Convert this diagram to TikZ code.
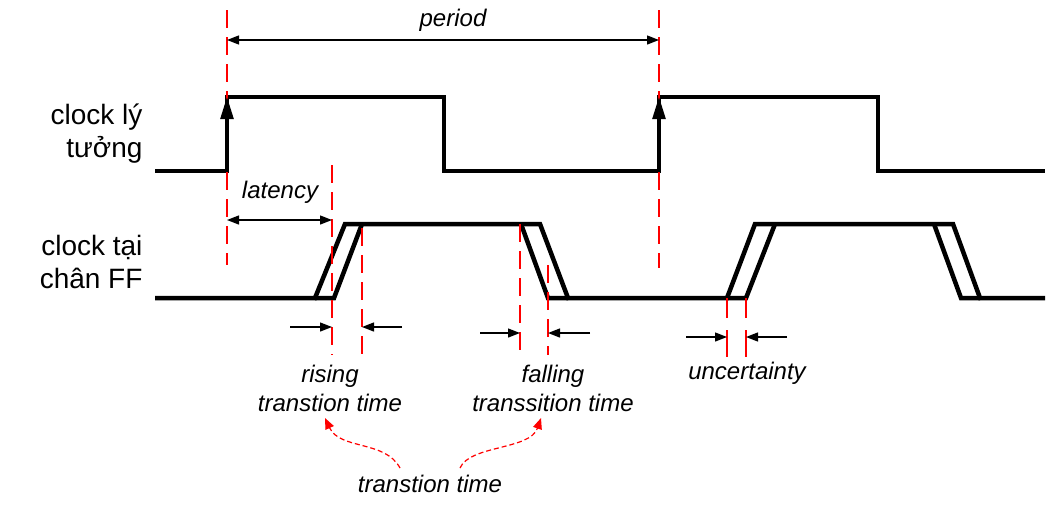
\documentclass[tikz,border=0pt]{standalone}
\usepackage{fontspec}
\setmainfont{Liberation Sans}
\usetikzlibrary{arrows.meta}
\begin{document}
\begin{tikzpicture}[x=1pt,y=-1pt,
 sig/.style={line width=4.5pt,line join=miter},
 red/.style={draw=red,line width=2.5pt,dash pattern=on 18pt off 9pt},
 dim/.style={-{Triangle[length=12pt,width=9pt]},line width=1.3pt},
 lbl/.style={font=\fontsize{24}{29}\selectfont\itshape,align=center},
 side/.style={font=\fontsize{28}{33}\selectfont,align=right,anchor=east}]
\useasboundingbox (0,0) rectangle (1049,512);
% ideal clock
\draw[sig] (155,171)--(227,171)--(227,97)--(444,97)--(444,171)--(659,171)--(659,97)--(878,97)--(878,171)--(1045,171);
% real clock
\draw[sig] (155,298)--(315,298)--(345,224)--(540,224)--(568,298)--(727,298)--(755,224)--(953,224)--(980,298)--(1045,298);
\draw[sig] (315,298)--(334,298)--(362,224);
\draw[sig] (521,224)--(548,298)--(568,298);
\draw[sig] (727,298)--(746,298)--(775,224);
\draw[sig] (934,224)--(961,298)--(980,298);
% red lines
\draw[red] (227,10)--(227,265);
\draw[red] (659,10)--(659,268);
\draw[red] (332,165)--(332,355);
\draw[red] (362,228)--(362,355);
\draw[red] (520,224)--(520,355);
\draw[red] (548,265)--(548,355);
\draw[draw=red,line width=2.5pt] (727,298)--(727,318) (727,330)--(727,357);
\draw[draw=red,line width=2.5pt] (746,298)--(746,318) (746,330)--(746,357);
% upward arrows
\coordinate (u1) at (227,171); \coordinate (u1t) at (227,97);
\coordinate (u2) at (659,171); \coordinate (u2t) at (659,97);
\draw[-{Triangle[length=22pt,width=13pt]},line width=2.5pt] (u1)--(u1t);
\draw[-{Triangle[length=22pt,width=13pt]},line width=2.5pt] (u2)--(u2t);
% period
\node[lbl] (per) at (453,20) {period};
\coordinate (p1) at (227,40); \coordinate (p2) at (659,40);
\draw[{Triangle[length=12pt,width=9pt]}-{Triangle[length=12pt,width=9pt]},line width=1.3pt] (p1)--(p2);
% latency
\node[lbl] (lat) at (280,192) {latency};
\coordinate (l1) at (227,220); \coordinate (l2) at (332,220);
\draw[{Triangle[length=12pt,width=9pt]}-{Triangle[length=12pt,width=9pt]},line width=1.3pt] (l1)--(l2);
% small arrows
\coordinate (a1) at (290,327); \coordinate (a1e) at (332,327);
\coordinate (a2) at (402,327); \coordinate (a2e) at (362,327);
\coordinate (b1) at (480,333); \coordinate (b1e) at (520,333);
\coordinate (b2) at (590,333); \coordinate (b2e) at (548,333);
\coordinate (c1) at (686,337); \coordinate (c1e) at (727,337);
\coordinate (c2) at (787,337); \coordinate (c2e) at (746,337);
\draw[dim] (a1)--(a1e); \draw[dim] (a2)--(a2e);
\draw[dim] (b1)--(b1e); \draw[dim] (b2)--(b2e);
\draw[dim] (c1)--(c1e); \draw[dim] (c2)--(c2e);
% labels
\node[side] (ci) at (146,134) {clock lý\\tưởng};
\node[side] (cr) at (146,262) {clock tại\\chân FF};
\node[lbl] (ris) at (330,388) {rising\\transtion time};
\node[lbl] (fal) at (553,388) {falling\\transsition time};
\node[lbl] (unc) at (747,373) {uncertainty};
\node[lbl] (tt) at (430,484) {transtion time};
\draw[red,line width=1.2pt,dash pattern=on 5pt off 3pt,-{Triangle[length=11pt,width=9pt]}] (400,468) .. controls (385,440) and (340,450) .. (325,418);
\draw[red,line width=1.2pt,dash pattern=on 5pt off 3pt,-{Triangle[length=11pt,width=9pt]}] (460,468) .. controls (470,445) and (530,450) .. (541,418);
\end{tikzpicture}
\end{document}
